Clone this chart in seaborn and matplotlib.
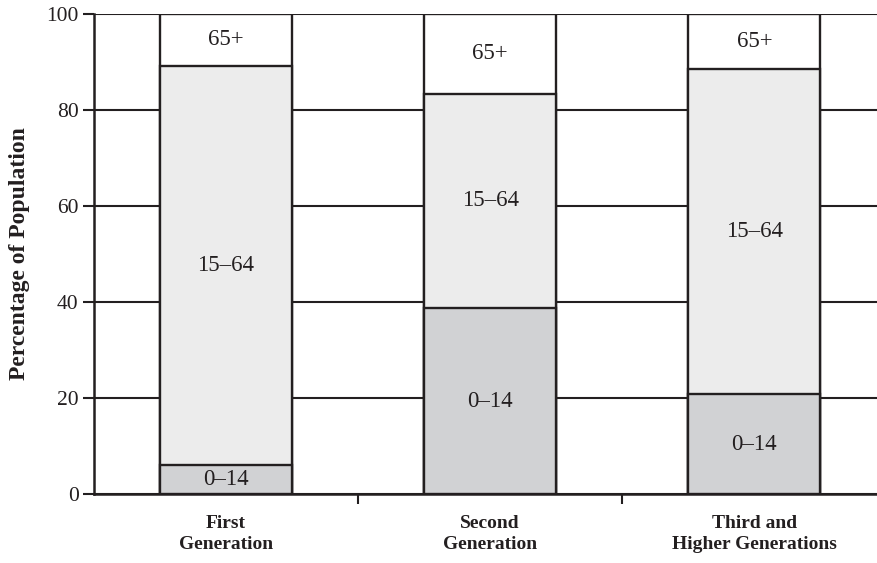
import pandas as pd
import seaborn as sns
import matplotlib.pyplot as plt

# age structure by immigrant generation (percent of population)
generations = ["First\nGeneration", "Second\nGeneration", "Third and\nHigher Generations"]
age_groups = ["0\u201314", "15\u201364", "65+"]
age_0_14 = [6.1, 38.7, 20.8]
age_15_64 = [83.1, 44.7, 67.8]
age_65_plus = [10.8, 16.6, 11.4]

fill = {"0\u201314": "#d1d2d4", "15\u201364": "#ececec", "65+": "#ffffff"}
ink = "#231f20"

sns.set_theme(style="white")
plt.rcParams["font.family"] = ["Liberation Serif", "DejaVu Serif"]

# cumulative tops so each layer can be drawn over the taller one
rows = []
for i, g in enumerate(generations):
    bottom = 0
    for grp, vals in zip(age_groups, [age_0_14, age_15_64, age_65_plus]):
        rows.append({"generation": g, "group": grp, "bottom": bottom,
                     "value": vals[i], "top": bottom + vals[i]})
        bottom += vals[i]
df = pd.DataFrame(rows)

fig = plt.figure(figsize=(8.78, 5.63), dpi=100)
ax = fig.add_axes([0.107, 0.1226, 0.893, 0.8526])

for grp in reversed(age_groups):
    sub = df[df["group"] == grp]
    sns.barplot(data=sub, x="generation", y="top", order=generations, width=0.5,
                color=fill[grp], edgecolor=ink, linewidth=1.7, saturation=1,
                ax=ax, zorder=3)

# segment labels
for _, r in df.iterrows():
    ax.text(generations.index(r["generation"]), r["bottom"] + r["value"] / 2, r["group"],
            ha="center", va="center", fontsize=16.5, color=ink, zorder=5)

ax.set_ylim(0, 100)
ax.set_xlim(-0.5, 2.468)
ax.set_yticks([0, 20, 40, 60, 80, 100])
ax.yaxis.grid(True, color=ink, linewidth=1.5)
ax.xaxis.grid(False)
ax.set_axisbelow(True)

ax.set_xticks([0.5, 1.5])
ax.set_xticklabels([])
ax.set_xticks([0, 1, 2], minor=True)
ax.set_xticklabels(generations, minor=True, fontweight="bold", fontsize=14, color=ink,
                   linespacing=1.3)
ax.tick_params(axis="x", which="major", length=7, width=1.5, color=ink, direction="out",
               bottom=True)
ax.tick_params(axis="x", which="minor", length=0, pad=15)
ax.tick_params(axis="y", length=8, width=1.5, color=ink, direction="out", left=True,
               labelsize=15.5, labelcolor=ink, pad=3)

for side in ["top", "right"]:
    ax.spines[side].set_visible(False)
for side in ["left", "bottom"]:
    ax.spines[side].set_color(ink)
    ax.spines[side].set_linewidth(1.8)

ax.set_xlabel("")
ax.set_ylabel("Percentage of Population", fontweight="bold", fontsize=17, color=ink,
              labelpad=12)

fig.savefig("out.png", dpi=100)
